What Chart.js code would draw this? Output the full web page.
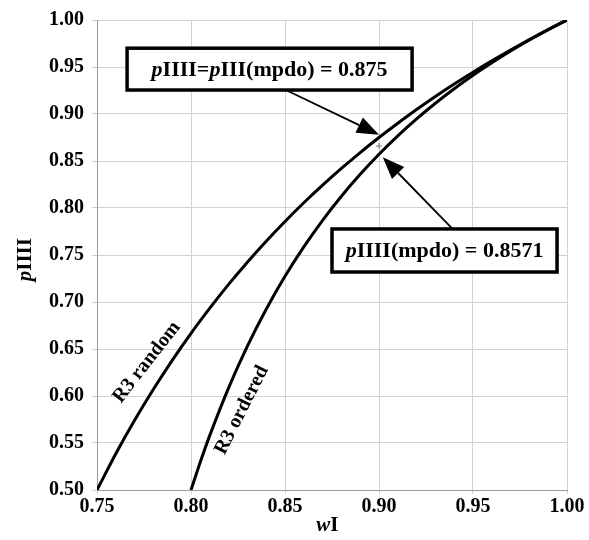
<!DOCTYPE html>
<html>
<head>
<meta charset="utf-8">
<script src="https://cdn.jsdelivr.net/npm/chart.js@4.4.0/dist/chart.umd.min.js"></script>
<style>
  html, body { margin: 0; padding: 0; background: #fff; }
  #wrap { width: 589px; height: 540px; }
</style>
</head>
<body>
<div id="wrap"><canvas id="chart"></canvas></div>
<script>
// wI values and pIIII
const randomW = [0.75, 0.76, 0.77, 0.78, 0.79, 0.80, 0.81, 0.82, 0.83, 0.84, 0.85, 0.86, 0.87,
  0.88, 0.89, 0.90, 0.91, 0.92, 0.93, 0.94, 0.95, 0.96, 0.97, 0.98, 0.99, 1.00];
const randomP = [0.5000, 0.5385, 0.5741, 0.6071, 0.6379, 0.6667, 0.6935, 0.7188, 0.7424, 0.7647,
  0.7857, 0.8056, 0.8243, 0.8421, 0.8590, 0.8750, 0.8902, 0.9048, 0.9186, 0.9318, 0.9444,
  0.9565, 0.9681, 0.9792, 0.9898, 1.0000];

const orderedW = [0.80, 0.805, 0.81, 0.82, 0.83, 0.84, 0.85, 0.86, 0.87, 0.88, 0.89, 0.90, 0.91,
  0.92, 0.93, 0.94, 0.95, 0.96, 0.97, 0.98, 0.99, 1.00];
const orderedP = [0.5000, 0.5301, 0.5581, 0.6087, 0.6531, 0.6923, 0.7273, 0.7586, 0.7869, 0.8125,
  0.8358, 0.8571, 0.8767, 0.8947, 0.9114, 0.9268, 0.9412, 0.9545, 0.9670, 0.9787, 0.9897, 1.0000];

const markW = [0.90];
const markP = [0.866];

const xMin = 0.75, xMax = 1.00, yMin = 0.50, yMax = 1.00, step = 0.05;

const SERIF = "'Liberation Serif', 'Times New Roman', serif";

function pts(xs, ys) {
  return xs.map((x, i) => ({ x: x, y: ys[i] }));
}

// draws a run of text pieces, some italic, all bold
function drawRich(ctx, parts, x, y, size, align) {
  let total = 0;
  parts.forEach(p => {
    ctx.font = (p.i ? "italic " : "") + "bold " + size + "px " + SERIF;
    p.w = ctx.measureText(p.t).width;
    total += p.w;
  });
  let cx = align === "center" ? x - total / 2 : x;
  ctx.textAlign = "left";
  ctx.textBaseline = "middle";
  parts.forEach(p => {
    ctx.font = (p.i ? "italic " : "") + "bold " + size + "px " + SERIF;
    ctx.fillText(p.t, cx, y);
    cx += p.w;
  });
  return total;
}

function arrow(ctx, x1, y1, x2, y2) {
  const ang = Math.atan2(y2 - y1, x2 - x1);
  const len = 22, half = 8.5;
  const bx = x2 - len * Math.cos(ang), by = y2 - len * Math.sin(ang);
  ctx.beginPath();
  ctx.moveTo(x1, y1);
  ctx.lineTo(bx, by);
  ctx.lineWidth = 1.8;
  ctx.stroke();
  ctx.beginPath();
  ctx.moveTo(x2, y2);
  ctx.lineTo(bx + half * Math.sin(ang), by - half * Math.cos(ang));
  ctx.lineTo(bx - half * Math.sin(ang), by + half * Math.cos(ang));
  ctx.closePath();
  ctx.fill();
}

function labelBox(ctx, parts, l, t, r, b) {
  ctx.fillStyle = "#fff";
  ctx.fillRect(l, t, r - l, b - t);
  ctx.strokeStyle = "#000";
  ctx.lineWidth = 3.5;
  ctx.strokeRect(l, t, r - l, b - t);
  ctx.fillStyle = "#000";
  drawRich(ctx, parts, (l + r) / 2, (t + b) / 2 + 1, 22, "center");
}

const notes = {
  id: "notes",
  afterDraw(chart) {
    const ctx = chart.ctx;
    const xs = chart.scales.x, ys = chart.scales.y;
    const px = v => xs.getPixelForValue(v);
    const py = v => ys.getPixelForValue(v);
    ctx.save();
    ctx.fillStyle = "#000";
    ctx.strokeStyle = "#000";

    // axis titles
    drawRich(ctx, [{ t: "w", i: true }, { t: "I" }], px(0.8725), 526, 21, "center");
    ctx.save();
    ctx.translate(26, py(0.745));
    ctx.rotate(-Math.PI / 2);
    drawRich(ctx, [{ t: "p", i: true }, { t: "IIII" }], 0, 0, 21, "center");
    ctx.restore();

    // curve labels
    ctx.save();
    ctx.translate(px(0.7765), py(0.636));
    ctx.rotate(-52 * Math.PI / 180);
    drawRich(ctx, [{ t: "R3 random" }], 0, 0, 20, "center");
    ctx.restore();
    ctx.save();
    ctx.translate(px(0.827), py(0.585));
    ctx.rotate(-63 * Math.PI / 180);
    drawRich(ctx, [{ t: "R3 ordered" }], 0, 0, 20, "center");
    ctx.restore();

    // arrows
    ctx.strokeStyle = "#000";
    ctx.fillStyle = "#000";
    arrow(ctx, px(0.851), py(0.925), px(0.900), py(0.878));
    arrow(ctx, px(0.939), py(0.778), px(0.902), py(0.854));

    // boxed notes
    labelBox(ctx, [{ t: "p", i: true }, { t: "IIII=" }, { t: "p", i: true }, { t: "III(mpdo) = 0.875" }],
      px(0.766), py(0.970), px(0.9176), py(0.9255));
    labelBox(ctx, [{ t: "p", i: true }, { t: "IIII(mpdo) = 0.8571" }],
      px(0.875), py(0.7777), px(0.9947), py(0.7319));
    ctx.restore();
  }
};

const tickFont = { family: SERIF, size: 20, weight: "bold" };

new Chart(document.getElementById("chart"), {
  type: "scatter",
  data: {
    datasets: [
      {
        label: "R3 random",
        data: pts(randomW, randomP),
        showLine: true,
        borderColor: "#000",
        borderWidth: 3,
        pointRadius: 0,
        cubicInterpolationMode: "monotone"
      },
      {
        label: "R3 ordered",
        data: pts(orderedW, orderedP),
        showLine: true,
        borderColor: "#000",
        borderWidth: 3,
        pointRadius: 0,
        cubicInterpolationMode: "monotone"
      },
      {
        label: "mark",
        data: pts(markW, markP),
        pointStyle: "cross",
        pointRadius: 3,
        borderColor: "#777",
        borderWidth: 1
      }
    ]
  },
  options: {
    responsive: true,
    maintainAspectRatio: false,
    animation: false,
    layout: { padding: { top: 20, right: 22, left: 0, bottom: 0 } },
    plugins: {
      legend: { display: false },
      tooltip: { enabled: false }
    },
    scales: {
      x: {
        type: "linear",
        min: xMin,
        max: xMax,
        afterFit: s => { s.height = 50; },
        ticks: {
          stepSize: step,
          color: "#000",
          font: tickFont,
          padding: 1,
          callback: v => v.toFixed(2)
        },
        grid: { color: "#d2d2d2", tickLength: 4, lineWidth: 1 },
        border: { color: "#999" }
      },
      y: {
        type: "linear",
        min: yMin,
        max: yMax,
        afterFit: s => { s.width = 97; },
        ticks: {
          stepSize: step,
          color: "#000",
          font: tickFont,
          padding: 8,
          callback: v => v.toFixed(2)
        },
        grid: { color: "#d2d2d2", tickLength: 5, lineWidth: 1 },
        border: { color: "#999" }
      }
    }
  },
  plugins: [notes]
});
</script>
</body>
</html>
